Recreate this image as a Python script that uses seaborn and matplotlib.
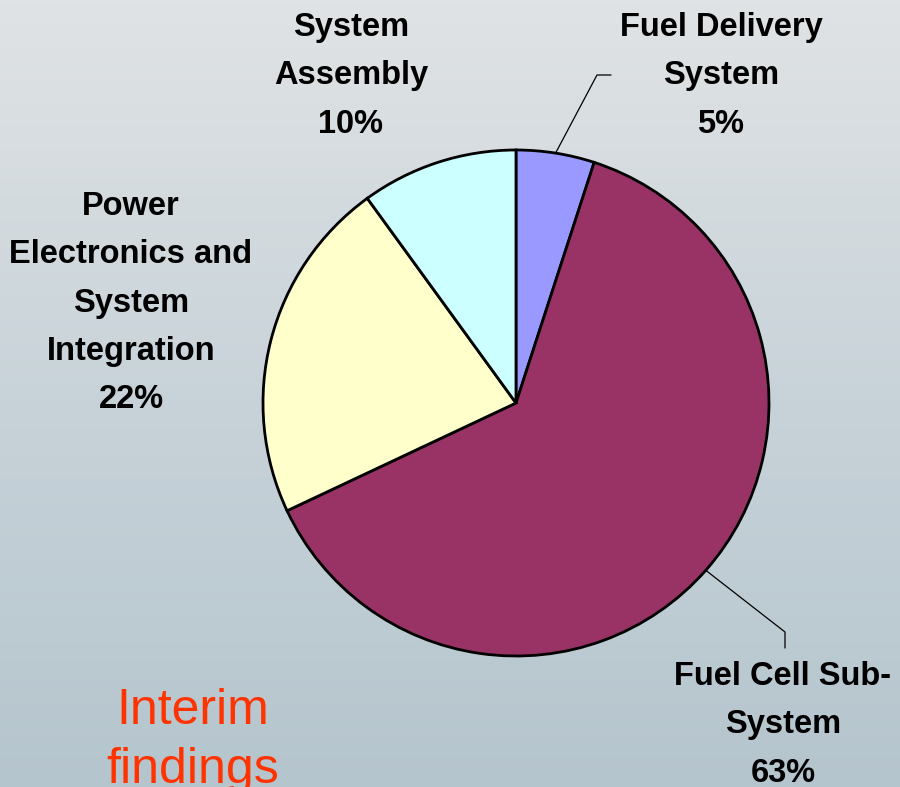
import numpy as np
import matplotlib
matplotlib.use("Agg")
import matplotlib.pyplot as plt
import seaborn as sns
from matplotlib.colors import LinearSegmentedColormap

sns.set_theme(style="white")
plt.rcParams['font.family'] = ['Liberation Sans', 'DejaVu Sans']

# data
components = ['Fuel Delivery\nSystem', 'Fuel Cell Sub-\nSystem',
              'Power\nElectronics and\nSystem\nIntegration', 'System\nAssembly']
shares = [5, 63, 22, 10]
colors = ['#9999ff', '#993366', '#ffffcc', '#ccffff']

W, H = 900, 787
fig = plt.figure(figsize=(W / 100, H / 100), dpi=100)
ax = fig.add_axes([0, 0, 1, 1])

# background gradient (light grey top -> blue grey bottom)
bg = LinearSegmentedColormap.from_list('bg', ['#b5c5cd', '#c8d3d9', '#e0e3e5'])
grad = np.linspace(0, 1, 256).reshape(-1, 1)
ax.imshow(grad, cmap=bg, extent=[0, W, 0, H], origin='lower', aspect='auto', zorder=0)

cx, cy, r = 516, H - 403, 253
wedges, _ = ax.pie(shares, colors=colors, startangle=90, counterclock=False,
                   center=(cx, cy), radius=r, frame=True,
                   wedgeprops=dict(edgecolor='black', linewidth=2))
ax.set_xlim(0, W)
ax.set_ylim(0, H)
ax.axis('off')
for w in wedges:
    w.set_zorder(2)

# label positions (pixel, top-left origin) and optional elbows
label_pos = [(721, 12), (783, 661), (131, 191), (351, 12)]
elbows = [[(597, 75), (611, 75)], [(785, 632), (785, 648)], None, None]

for w, name, val, (lx, ly), elb in zip(wedges, components, shares, label_pos, elbows):
    ax.text(lx, H - ly, f'{name}\n{val}%', ha='center', va='top',
            fontsize=23.5, fontweight='bold', color='black',
            linespacing=1.72, zorder=3)
    if elb:
        mid = np.deg2rad((w.theta1 + w.theta2) / 2)
        xs = [cx + r * np.cos(mid)] + [p[0] for p in elb]
        ys = [cy + r * np.sin(mid)] + [H - p[1] for p in elb]
        ax.plot(xs, ys, color='black', lw=0.9, zorder=1.5)

ax.text(193, H - 688, 'Interim\nfindings', ha='center', va='top',
        fontsize=36, color='#ff3300', linespacing=1.36, zorder=3)

fig.savefig('out.png', dpi=100)
